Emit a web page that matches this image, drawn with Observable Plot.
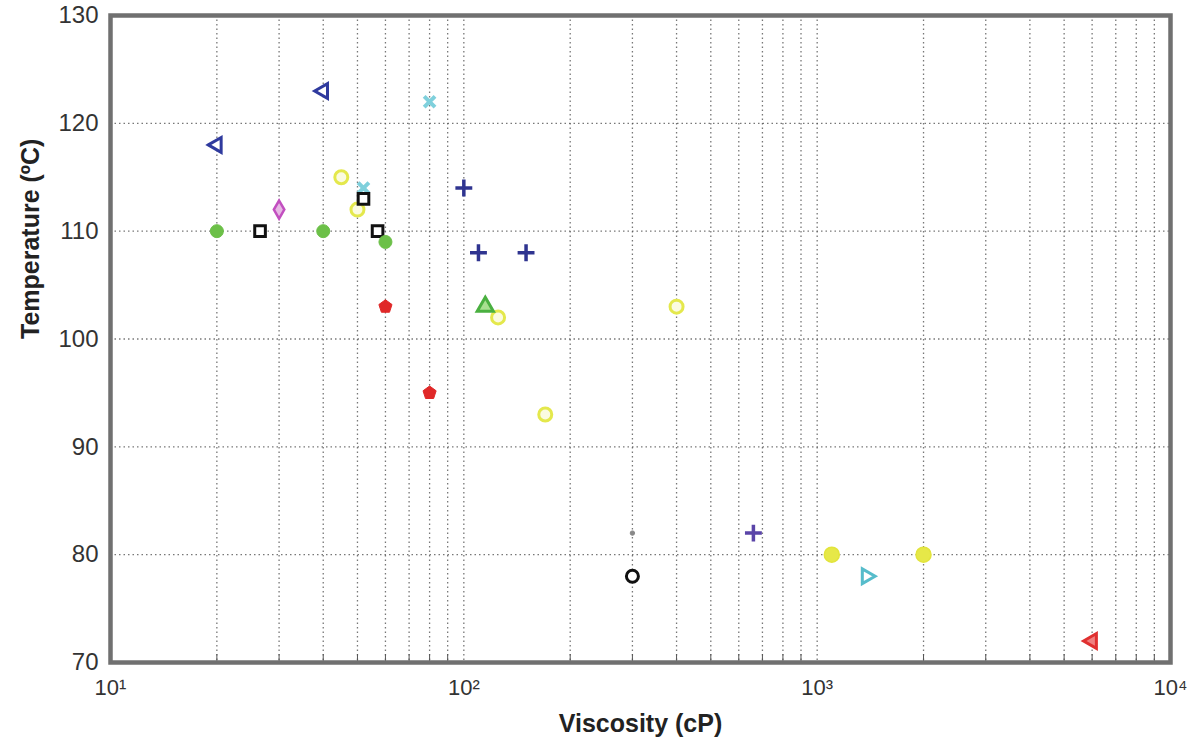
<!DOCTYPE html>
<html>
<head>
<meta charset="utf-8">
<script src="https://cdn.jsdelivr.net/npm/d3@7"></script>
<script src="https://cdn.jsdelivr.net/npm/@observablehq/plot@0.6"></script>
<style>
  html, body { margin: 0; padding: 0; background: #fff; }
  #chart { width: 1190px; height: 742px; }
</style>
</head>
<body>
<div id="chart"></div>
<script>
// ---- Data ----
const viscosity   = [20, 40, 80, 52, 45, 50, 125, 170, 400, 26.5, 52, 57, 30, 20, 40, 60, 60, 80, 100, 110, 150, 115, 300, 300, 660, 1100, 2000, 1380, 6000];
const temperature = [118, 123, 122, 114, 115, 112, 102, 93, 103, 110, 113, 110, 112, 110, 110, 109, 103, 95, 114, 108, 108, 103, 82, 78, 82, 80, 80, 78, 72];
const group       = ["A", "A", "B", "B", "C", "C", "C", "C", "C", "D", "D", "D", "E", "F", "F", "F", "G", "G", "H", "H", "H", "I", "J", "K", "L", "M", "M", "N", "O"];

const yTicks = [70, 80, 90, 100, 110, 120, 130];
const yGrid = [80, 90, 100, 110, 120];
const xMajor = [10, 100, 1000, 10000];
const xMajorLabels = ["10¹", "10²", "10³", "10⁴"];

// ---- Styles per group (kept apart from the data) ----
function polySymbol(n, rot) {
  return {
    draw(ctx, size) {
      const r = Math.sqrt(size / (0.5 * n * Math.sin(2 * Math.PI / n)));
      for (let i = 0; i < n; i++) {
        const a = rot + i * 2 * Math.PI / n;
        const px = r * Math.cos(a), py = r * Math.sin(a);
        if (i === 0) ctx.moveTo(px, py); else ctx.lineTo(px, py);
      }
      ctx.closePath();
    }
  };
}
const triLeft = polySymbol(3, Math.PI);
const triRight = polySymbol(3, 0);
const pentagon = polySymbol(5, -Math.PI / 2);

const groupStyle = {
  A: {symbol: triLeft,    stroke: "#2f3a9e", fill: "white",   r: 5.5, sw: 3},
  B: {symbol: "times",    stroke: "#7fd0dc", fill: "none",    r: 5,   sw: 4},
  C: {symbol: "circle",   stroke: "#e4e84c", fill: "#fbfbe0", r: 6.5, sw: 3},
  D: {symbol: "square",   stroke: "#111111", fill: "white",   r: 6,   sw: 3},
  E: {symbol: "diamond",  stroke: "#c24fc0", fill: "#e6b8e4", r: 5.5, sw: 2.5},
  F: {symbol: "circle",   stroke: "#6cc048", fill: "#6cc048", r: 6.5, sw: 1},
  G: {symbol: pentagon,   stroke: "#e02828", fill: "#e02828", r: 6,   sw: 1},
  H: {symbol: "plus",     stroke: "#2f3490", fill: "none",    r: 5.5, sw: 3.5},
  I: {symbol: "triangle", stroke: "#4ab040", fill: "#a8e090", r: 6,   sw: 3},
  J: {symbol: "circle",   stroke: "#888888", fill: "#888888", r: 2.2, sw: 1},
  K: {symbol: "circle",   stroke: "#111111", fill: "white",   r: 6,   sw: 3},
  L: {symbol: "plus",     stroke: "#5a44a8", fill: "none",    r: 5.5, sw: 3.5},
  M: {symbol: "circle",   stroke: "#e2e43c", fill: "#e6e848", r: 7.5, sw: 1.5},
  N: {symbol: triRight,   stroke: "#56bccb", fill: "white",   r: 5.5, sw: 3},
  O: {symbol: triLeft,    stroke: "#e03030", fill: "#f08080", r: 5.5, sw: 3}
};

const table = viscosity.map((v, i) => ({v, t: temperature[i], g: group[i]}));

const xMinor = [];
for (const dec of [10, 100, 1000]) for (let k = 2; k <= 9; k++) xMinor.push(dec * k);
const xGrid = xMinor.concat([100, 1000]);

const narrow = "'Liberation Sans Narrow', 'Arial Narrow', 'Liberation Sans', Arial, sans-serif";

const dotMarks = Object.keys(groupStyle).map(g => {
  const s = groupStyle[g];
  return Plot.dot(table.filter(d => d.g === g), {
    x: "v", y: "t", symbol: () => s.symbol, r: s.r,
    stroke: s.stroke, fill: s.fill, strokeWidth: s.sw
  });
});

const chart = Plot.plot({
  width: 1190,
  height: 742,
  marginLeft: 110,
  marginRight: 20,
  marginTop: 15,
  marginBottom: 80,
  style: {fontFamily: "'Liberation Sans', Arial, sans-serif", color: "#333", background: "white"},
  x: {type: "log", domain: [10, 10000]},
  y: {domain: [70, 130]},
  symbol: {type: "identity"},
  marks: [
    Plot.gridX(xGrid, {stroke: "#555", strokeOpacity: 0.8, strokeDasharray: "1.5,3", strokeWidth: 1.3}),
    Plot.gridY(yGrid, {stroke: "#555", strokeOpacity: 0.8, strokeDasharray: "1.5,3", strokeWidth: 1.3}),
    Plot.axisX(xMinor, {tickSize: -8, tickFormat: () => "", label: null, stroke: "#555"}),
    Plot.axisX(xMajor, {tickSize: 0, tickPadding: 17, label: null, fontSize: 22, fontFamily: narrow,
      tickFormat: (d) => xMajorLabels[xMajor.indexOf(d)]}),
    Plot.axisY(yTicks, {tickSize: 0, tickPadding: 12, label: null, fontSize: 24}),
    Plot.frame({stroke: "#707070", strokeWidth: 4.5}),
    ...dotMarks,
    Plot.text(["Viscosity (cP)"], {frameAnchor: "bottom", dy: 61, lineAnchor: "middle",
      fontSize: 25, fontWeight: "bold", fontFamily: narrow, fill: "#222"}),
    Plot.text(["Temperature (ºC)"], {frameAnchor: "left", dx: -80, rotate: -90, lineAnchor: "middle",
      fontSize: 25, fontWeight: "bold", fontFamily: narrow, fill: "#222"})
  ]
});
document.getElementById("chart").appendChild(chart);
</script>
</body>
</html>
